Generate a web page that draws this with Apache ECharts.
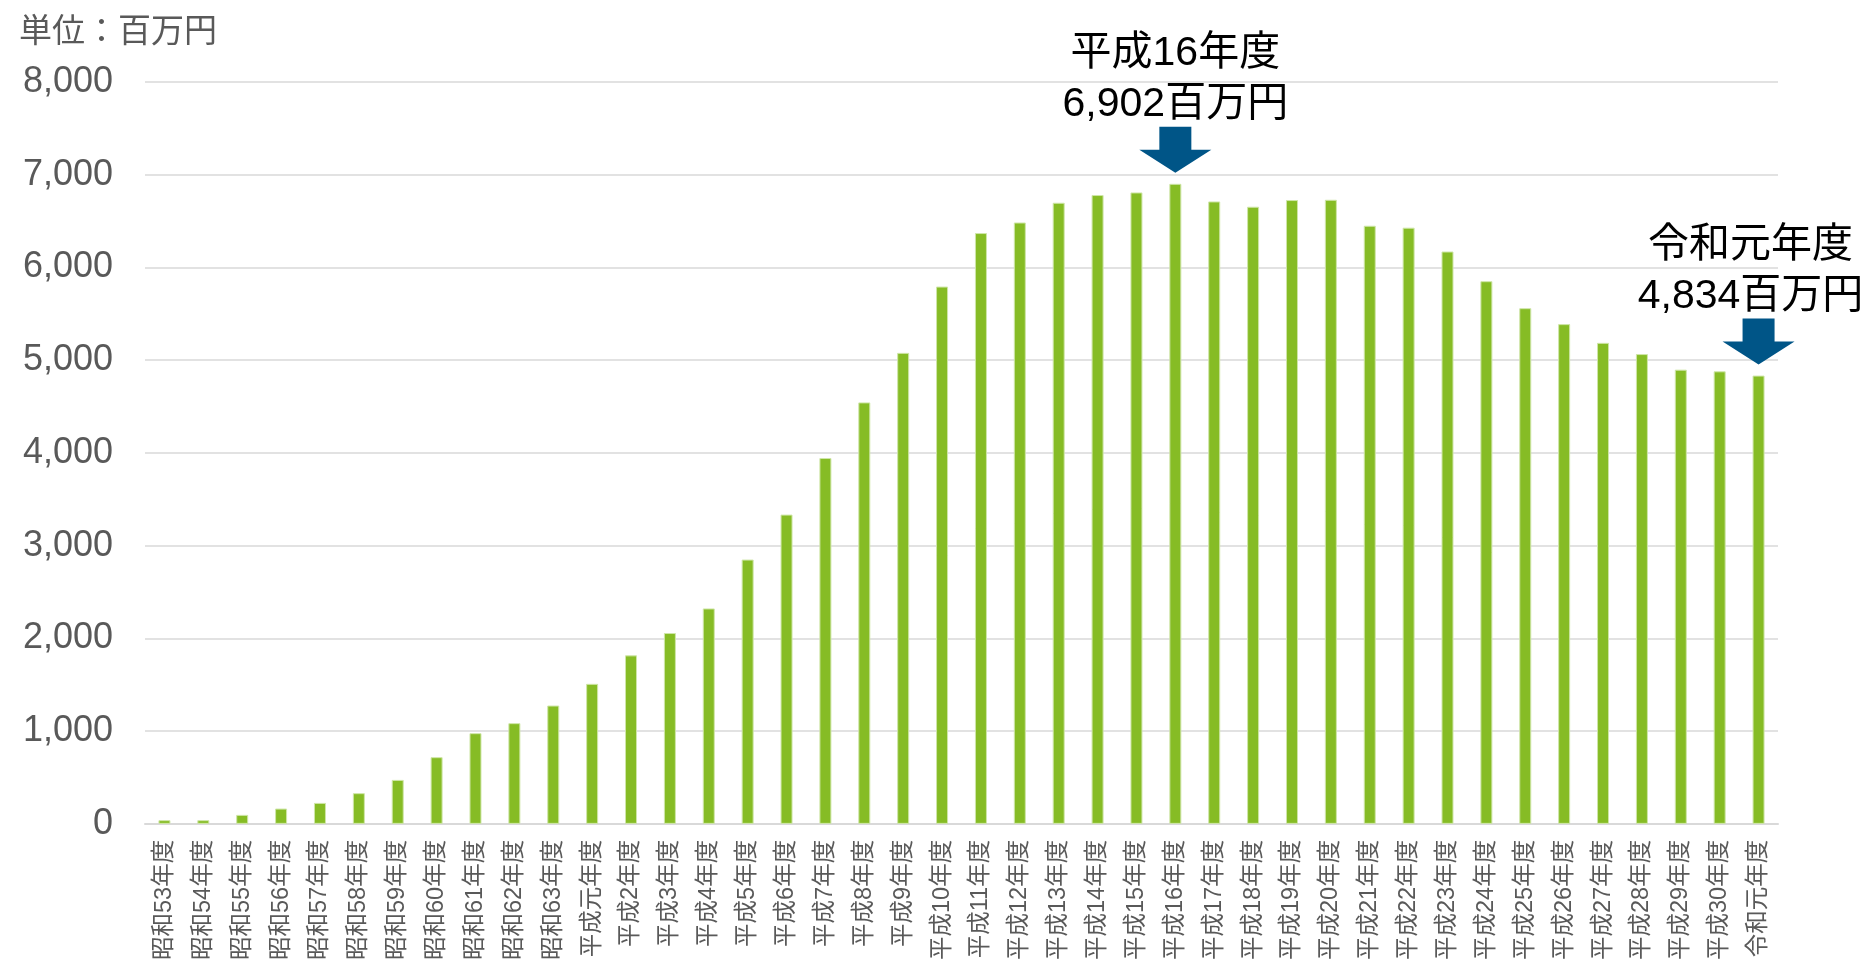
<!DOCTYPE html>
<html>
<head>
<meta charset="utf-8">
<script src="https://cdn.jsdelivr.net/npm/echarts@6/dist/echarts.min.js"></script>
<style>
html,body{margin:0;padding:0;background:#fff;}
#chart{width:1865px;height:963px;}
</style>
</head>
<body>
<div id="chart"></div>
<script>
const categories = ['昭和53年度','昭和54年度','昭和55年度','昭和56年度','昭和57年度','昭和58年度','昭和59年度','昭和60年度','昭和61年度','昭和62年度','昭和63年度',
  '平成元年度','平成2年度','平成3年度','平成4年度','平成5年度','平成6年度','平成7年度','平成8年度','平成9年度','平成10年度',
  '平成11年度','平成12年度','平成13年度','平成14年度','平成15年度','平成16年度','平成17年度','平成18年度','平成19年度','平成20年度',
  '平成21年度','平成22年度','平成23年度','平成24年度','平成25年度','平成26年度','平成27年度','平成28年度','平成29年度','平成30年度','令和元年度'];
const values = [40,40,97,165,226,331,474,719,978,1086,1276,
  1510,1817,2058,2323,2850,3335,3945,4545,5079,5794,
  6371,6485,6698,6781,6809,6902,6712,6655,6727,6730,
  6450,6429,6172,5852,5561,5389,5187,5066,4898,4880,4834];
const unitLabel = '単位：百万円';
const yMin = 0, yMax = 8000, yInterval = 1000;
const annotations = [
  {index: 26, lines: ['平成16年度', '6,902百万円'], dx: 0},
  {index: 41, lines: ['令和元年度', '4,834百万円'], dx: -8}
];

const chart = echarts.init(document.getElementById('chart'));
const latin = "'Liberation Sans', 'Noto Sans CJK JP', sans-serif";
const option = {
  animation: false,
  backgroundColor: '#ffffff',
  title: {
    text: unitLabel, left: 14, top: 8,
    textStyle: {fontSize: 33, fontWeight: 'normal', color: '#595959', fontFamily: "'Noto Sans CJK JP', sans-serif"}
  },
  grid: {left: 145, right: 87, top: 82, bottom: 138, containLabel: false},
  xAxis: {
    type: 'category', data: categories,
    axisLine: {lineStyle: {color: '#d9d9d9', width: 2}},
    axisTick: {show: false},
    axisLabel: {rotate: 90, interval: 0, margin: 16, fontSize: 23.5, color: '#595959', fontFamily: latin}
  },
  yAxis: {
    type: 'value', min: yMin, max: yMax, interval: yInterval,
    axisLine: {show: false}, axisTick: {show: false},
    splitLine: {lineStyle: {color: '#d9d9d9', width: 1.5}},
    axisLabel: {fontSize: 36, color: '#595959', margin: 32, fontFamily: latin,
      formatter: v => v.toLocaleString('en-US')}
  },
  series: [{
    type: 'bar', data: values, barWidth: 12,
    itemStyle: {color: '#86bc25', borderColor: '#cfe6a8', borderWidth: 1}
  }]
};
chart.setOption(option);

const graphics = [];
annotations.forEach(a => {
  const p = chart.convertToPixel({seriesIndex: 0}, [a.index, values[a.index]]);
  const tipX = p[0], tipY = p[1] - 11;
  const top = tipY - 46, headY = tipY - 23;
  graphics.push({
    type: 'polygon',
    shape: {points: [[tipX - 16, top], [tipX + 16, top], [tipX + 16, headY], [tipX + 36, headY], [tipX, tipY], [tipX - 36, headY], [tipX - 16, headY]]},
    style: {fill: '#005587'}
  });
  const cx = tipX + a.dx;
  const l2 = top - 22, l1 = l2 - 51;
  [l1, l2].forEach((y, i) => {
    graphics.push({
      type: 'text', x: cx, y: y,
      style: {text: a.lines[i], fill: '#000', fontSize: 41, align: 'center', verticalAlign: 'middle',
        fontFamily: latin}
    });
  });
});
chart.setOption({graphic: graphics});
</script>
</body>
</html>
